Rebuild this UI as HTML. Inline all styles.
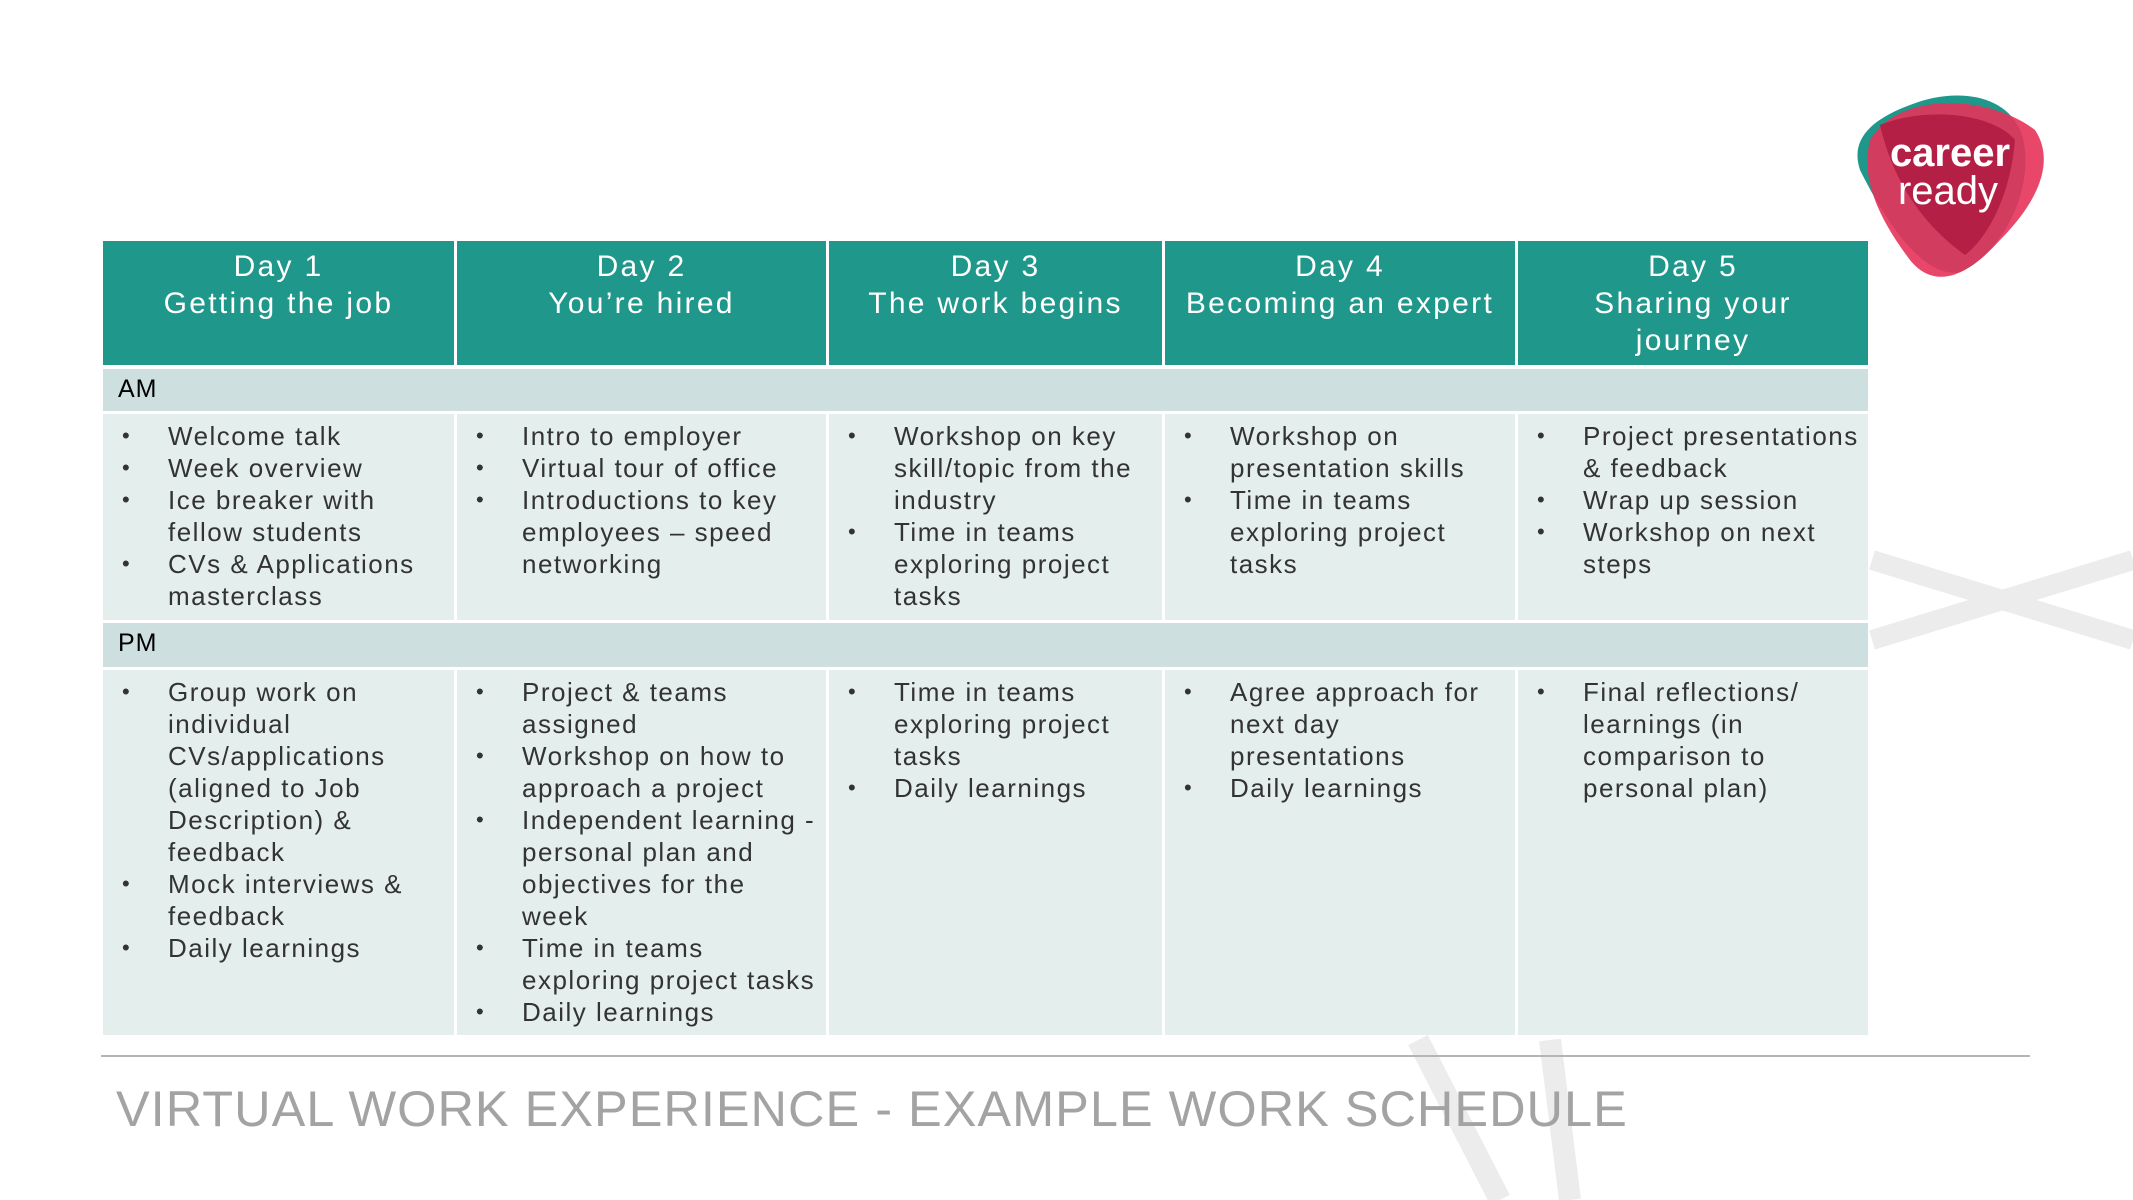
<!DOCTYPE html>
<html><head><meta charset="utf-8"><style>
body{margin:0;width:2133px;height:1200px;background:#fff;position:relative;overflow:hidden;font-family:"Liberation Sans",sans-serif;}
.bg{position:absolute;left:0;top:0}
.b{position:absolute;box-sizing:border-box}
.h{background:#1f978b;color:#fff;font-size:30px;line-height:37px;text-align:center;padding-top:7px;letter-spacing:2.3px;top:241px;height:124px}
.lab{background:#cde0df;font-size:25px;padding:6px 0 0 15px;letter-spacing:1px;left:103px;width:1765px}
.c{background:#e4eeed;color:#333;font-size:26px;line-height:32px;padding:6px 8px 4px 0;letter-spacing:1.5px}
ul{margin:0;padding:0 0 0 65px;list-style:none}
li{position:relative}
li:before{content:"•";position:absolute;left:-46px;font-size:22px}
.title{position:absolute;left:116px;top:1079px;font-size:50.5px;color:#a3a3a3;letter-spacing:1px;white-space:nowrap}
.am{top:414px;height:206px}
.pm{top:670px;height:365px}
.c1{left:103px;width:351px}.c2{left:457px;width:369px}.c3{left:829px;width:333px}.c4{left:1165px;width:350px}.c5{left:1518px;width:350px}
</style></head><body>
<svg class="bg" width="2133" height="1200">
<path d="M1872 560 L2133 640 M1872 640 L2133 560" stroke="#ececed" stroke-width="20" fill="none"/>
<path d="M1418 1040 L1500 1200 M1550 1040 L1570 1200" stroke="#ececed" stroke-width="22" fill="none"/>
<line x1="101" y1="1056" x2="2030" y2="1056" stroke="#b5b5b5" stroke-width="2"/>
<path d="M1910 105 C1960 85 2020 95 2025 150 C2030 210 1990 260 1960 272 C1920 280 1880 210 1860 170 C1850 140 1870 120 1910 105Z" fill="#1f978b"/>
<path d="M1870 140 C1900 90 1990 95 2035 130 C2055 160 2040 200 2000 240 C1960 285 1930 285 1910 260 C1880 220 1860 180 1870 140Z" fill="#e5335a" opacity="0.9"/>
<path d="M1880 125 C1930 105 1995 115 2015 140 C2010 200 1985 240 1965 255 C1930 230 1895 190 1880 125Z" fill="#b41f45"/>
<text x="1950" y="166" text-anchor="middle" font-family="Liberation Sans" font-weight="bold" font-size="40" fill="#fff">career</text>
<text x="1948" y="204" text-anchor="middle" font-family="Liberation Sans" font-size="40" fill="#fff">ready</text>
</svg>
<div class="b h c1">Day 1<br>Getting the job</div>
<div class="b h c2">Day 2<br>You’re hired</div>
<div class="b h c3">Day 3<br>The work begins</div>
<div class="b h c4">Day 4<br>Becoming an expert</div>
<div class="b h c5">Day 5<br>Sharing your<br>journey</div>
<div class="b lab" style="top:369px;height:42px">AM</div>
<div class="b c am c1"><ul><li>Welcome talk</li><li>Week overview</li><li>Ice breaker with fellow students</li><li>CVs &amp; Applications masterclass</li></ul></div>
<div class="b c am c2"><ul><li>Intro to employer</li><li>Virtual tour of office</li><li>Introductions to key employees – speed networking</li></ul></div>
<div class="b c am c3"><ul><li>Workshop on key skill/topic from the industry</li><li>Time in teams exploring project tasks</li></ul></div>
<div class="b c am c4"><ul><li>Workshop on presentation skills</li><li>Time in teams exploring project tasks</li></ul></div>
<div class="b c am c5"><ul><li>Project presentations &amp; feedback</li><li>Wrap up session</li><li>Workshop on next steps</li></ul></div>
<div class="b lab" style="top:623px;height:44px">PM</div>
<div class="b c pm c1"><ul><li>Group work on individual CVs/applications (aligned to Job Description) &amp; feedback</li><li>Mock interviews &amp; feedback</li><li>Daily learnings</li></ul></div>
<div class="b c pm c2"><ul><li>Project &amp; teams assigned</li><li>Workshop on how to approach a project</li><li>Independent learning - personal plan and objectives for the week</li><li>Time in teams exploring project tasks</li><li>Daily learnings</li></ul></div>
<div class="b c pm c3"><ul><li>Time in teams exploring project tasks</li><li>Daily learnings</li></ul></div>
<div class="b c pm c4"><ul><li>Agree approach for next day presentations</li><li>Daily learnings</li></ul></div>
<div class="b c pm c5"><ul><li>Final reflections/ learnings (in comparison to personal plan)</li></ul></div>
<div class="title">VIRTUAL WORK EXPERIENCE - EXAMPLE WORK SCHEDULE</div>
</body></html>
